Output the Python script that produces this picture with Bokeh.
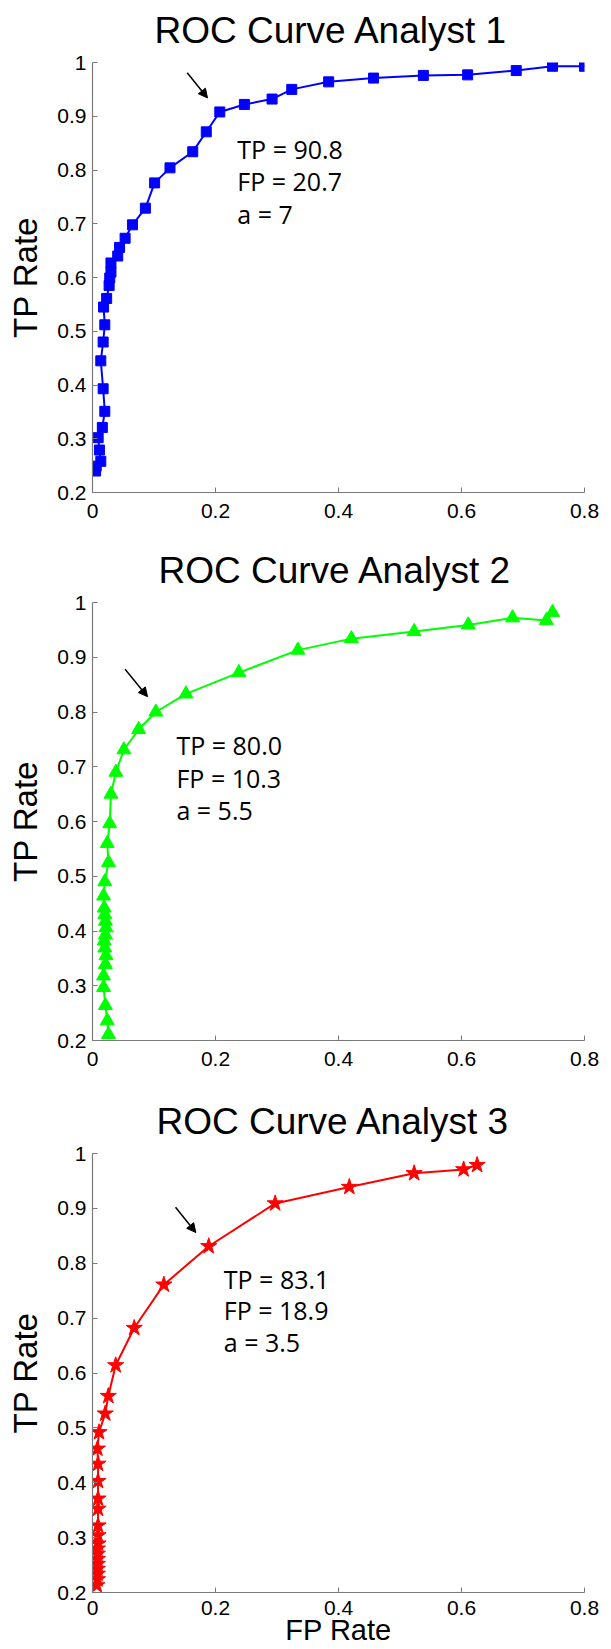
from bokeh.plotting import figure
from bokeh.layouts import column
from bokeh.models import Range1d, FixedTicker, Label, Arrow, NormalHead
from bokeh.embed import file_html
from bokeh.resources import INLINE

# ---------------- data ----------------
titles = ["ROC Curve Analyst 1", "ROC Curve Analyst 2", "ROC Curve Analyst 3"]

a1_fp = [0.005, 0.006, 0.0135, 0.0113, 0.0092, 0.016, 0.020, 0.0173, 0.0135, 0.0173,
         0.020, 0.018, 0.023, 0.027, 0.028, 0.030, 0.030, 0.041, 0.044, 0.053,
         0.065, 0.086, 0.101, 0.126, 0.163, 0.185, 0.207, 0.247, 0.292, 0.324,
         0.384, 0.457, 0.538, 0.610, 0.689, 0.748, 0.800]
a1_tp = [0.240, 0.249, 0.258, 0.279, 0.302, 0.321, 0.351, 0.393, 0.445, 0.480,
         0.512, 0.545, 0.561, 0.585, 0.599, 0.610, 0.627, 0.640, 0.656, 0.673,
         0.698, 0.729, 0.776, 0.804, 0.834, 0.871, 0.908, 0.922, 0.932, 0.950,
         0.964, 0.971, 0.976, 0.977, 0.985, 0.993, 0.993]

a2_fp = [0.026, 0.024, 0.021, 0.018, 0.018, 0.021, 0.022, 0.020, 0.019, 0.021,
         0.022, 0.021, 0.020, 0.019, 0.018, 0.020, 0.026, 0.024, 0.028, 0.030,
         0.038, 0.051, 0.075, 0.103, 0.152, 0.238, 0.334, 0.421, 0.523, 0.611,
         0.683, 0.738, 0.748]
a2_tp = [0.211, 0.236, 0.264, 0.297, 0.318, 0.339, 0.355, 0.369, 0.382, 0.393,
         0.406, 0.418, 0.430, 0.442, 0.464, 0.490, 0.525, 0.560, 0.596, 0.650,
         0.690, 0.731, 0.768, 0.800, 0.833, 0.872, 0.913, 0.934, 0.947, 0.959,
         0.972, 0.967, 0.982]

a3_fp = [0.007, 0.008, 0.008, 0.008, 0.008, 0.008, 0.008, 0.008, 0.009, 0.009,
         0.009, 0.009, 0.009, 0.009, 0.009, 0.008, 0.0106, 0.0207, 0.0257, 0.0377,
         0.0678, 0.116, 0.189, 0.297, 0.4176, 0.523, 0.6035, 0.6254]
a3_tp = [0.213, 0.224, 0.234, 0.243, 0.252, 0.261, 0.2705, 0.280, 0.289, 0.304,
         0.322, 0.3525, 0.371, 0.403, 0.4345, 0.462, 0.492, 0.526, 0.558, 0.614,
         0.682, 0.761, 0.831, 0.909, 0.939, 0.964, 0.971, 0.979]

stats = [["TP = 90.8", "FP = 20.7", "a = 7"],
         ["TP = 80.0", "FP = 10.3", "a = 5.5"],
         ["TP = 83.1", "FP = 18.9", "a = 3.5"]]

x_ticks = [0, 0.2, 0.4, 0.6, 0.8]
x_tick_labels = ["0", "0.2", "0.4", "0.6", "0.8"]
y_ticks = [0.2, 0.3, 0.4, 0.5, 0.6, 0.7, 0.8, 0.9, 1.0]
y_tick_labels = ["0.2", "0.3", "0.4", "0.5", "0.6", "0.7", "0.8", "0.9", "1"]

y_label = "TP Rate"
x_label = "FP Rate"

AX_FONT = "Liberation Sans"
NOTE_FONT = "Open Sans"
W = 611


def make_panel(title, fp, tp, color, marker, msize, h, borders, title_offset,
               stat_lines, stat_xy, arrow, with_xlabel=False):
    bl, br, bt, bb = borders
    p = figure(width=W, height=h, output_backend="svg", toolbar_location=None,
               x_range=Range1d(0, 0.8), y_range=Range1d(0.2, 1.0),
               min_border_left=bl, min_border_right=br,
               min_border_top=bt, min_border_bottom=bb)
    p.title.text = title
    p.title.align = "left"
    p.title.vertical_align = "top"
    p.title.offset = title_offset
    p.title.text_font = AX_FONT
    p.title.text_font_size = "37px"
    p.title.text_font_style = "normal"
    p.title.text_color = "black"
    p.title.standoff = 19
    p.outline_line_color = None
    p.grid.visible = False
    p.background_fill_color = "white"
    p.border_fill_color = "white"

    for ax, ticks, labels in ((p.xaxis, x_ticks, x_tick_labels),
                              (p.yaxis, y_ticks, y_tick_labels)):
        ax.ticker = FixedTicker(ticks=ticks)
        ax.major_label_overrides = dict(zip(ticks, labels))
        ax.axis_line_color = "#7a7a7a"
        ax.axis_line_width = 1.2
        ax.major_tick_line_color = "#7a7a7a"
        ax.major_tick_in = 5
        ax.major_tick_out = 0
        ax.minor_tick_line_color = None
        ax.major_label_text_font = AX_FONT
        ax.major_label_text_font_size = "21px"
        ax.major_label_text_color = "black"
        ax.major_label_standoff = 6
    p.xaxis.major_label_standoff = 11

    p.yaxis.axis_label = y_label
    p.yaxis.axis_label_text_font = AX_FONT
    p.yaxis.axis_label_text_font_size = "33px"
    p.yaxis.axis_label_text_font_style = "normal"
    p.yaxis.axis_label_text_color = "black"
    p.yaxis.axis_label_standoff = 10

    if with_xlabel:
        p.xaxis.major_label_standoff = 8
        p.xaxis.axis_label = x_label
        p.xaxis.axis_label_text_font = AX_FONT
        p.xaxis.axis_label_text_font_size = "29px"
        p.xaxis.axis_label_text_font_style = "normal"
        p.xaxis.axis_label_text_color = "black"
        p.xaxis.axis_label_standoff = -4

    p.line(fp, tp, line_color=color, line_width=2)
    p.scatter(fp, tp, marker=marker, size=msize, fill_color=color,
              line_color=color)

    sx, sy = stat_xy
    for i, txt in enumerate(stat_lines):
        p.add_layout(Label(x=sx, y=sy[i], text=txt, text_font=NOTE_FONT,
                           text_font_size="25px", text_color="black",
                           text_align="left", text_baseline="middle"))

    x0, y0, x1, y1 = arrow
    p.add_layout(Arrow(end=NormalHead(size=9, fill_color="black",
                                      line_color="black"),
                       x_start=x0, y_start=y0, x_end=x1, y_end=y1,
                       line_color="black", line_width=1.5))
    return p


p1 = make_panel(titles[0], a1_fp, a1_tp, "#0000ff", "square", 10, 540,
                (89, 26, 61, 48), 62, stats[0], (0.2355, [0.839, 0.779, 0.719]),
                (0.154, 0.981, 0.187, 0.934))
p2 = make_panel(titles[1], a2_fp, a2_tp, "#00ff00", "triangle", 14, 551,
                (92, 23, 62, 51), 66, stats[1], (0.1365, [0.739, 0.679, 0.621]),
                (0.053, 0.878, 0.0895, 0.828))
p3 = make_panel(titles[2], a3_fp, a3_tp, "#ff0000", "star", 17, 558,
                (91, 27, 62, 57), 64, stats[2], (0.2135, [0.771, 0.714, 0.656]),
                (0.135, 0.902, 0.168, 0.856), with_xlabel=True)

layout = column(p1, p2, p3, spacing=0)
open("out.html", "w").write(file_html(layout, INLINE))
